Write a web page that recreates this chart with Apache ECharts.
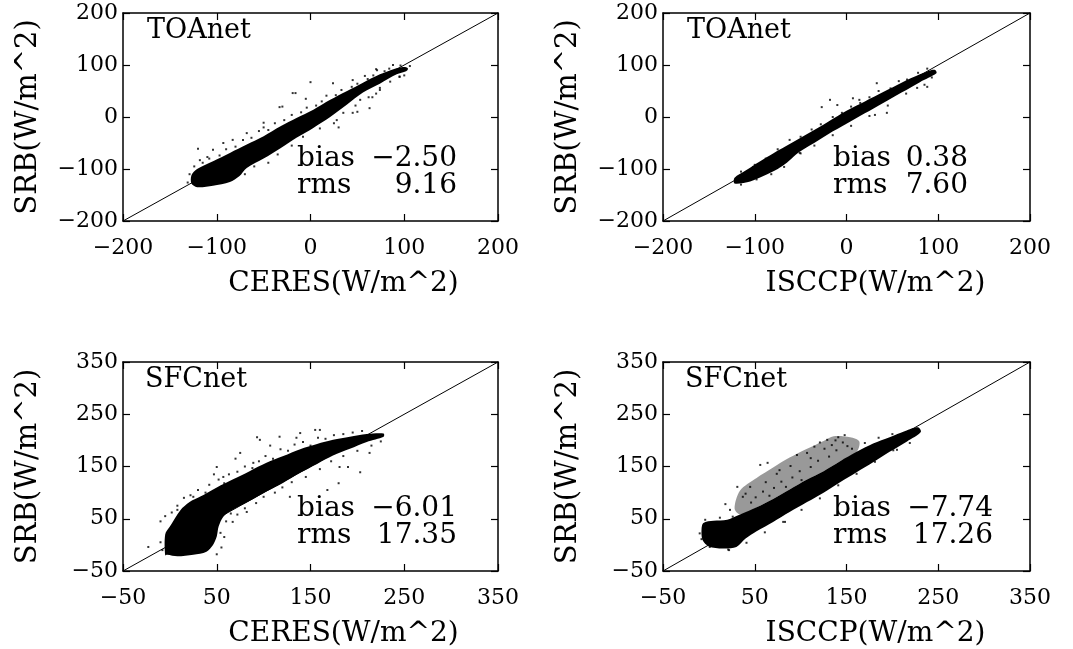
<!DOCTYPE html>
<html>
<head>
<meta charset="utf-8">
<script src="https://cdn.jsdelivr.net/npm/echarts@6/dist/echarts.min.js"></script>
<style>
html, body { margin: 0; padding: 0; background: #fff; }
#chart { width: 1073px; height: 649px; }
</style>
</head>
<body>
<div id="chart"></div>
<script>
const panelTitles = ['TOAnet', 'TOAnet', 'SFCnet', 'SFCnet']
const xNames = ['CERES(W/m^2)', 'ISCCP(W/m^2)', 'CERES(W/m^2)', 'ISCCP(W/m^2)']
const yName = 'SRB(W/m^2)'
const axisMin = [-200, -200, -50, -50]
const axisMax = [200, 200, 350, 350]
const tickStep = 100
const biasVals = ['-2.50', '0.38', '-6.01', '-7.74']
const rmsVals = ['9.16', '7.60', '17.35', '17.26']

// dense part of each cloud, outline, [x, y] in W/m^2
const toaCeresCore = [
  [-127, -112], [-121, -100], [-104, -85], [-86, -69], [-68, -53], [-50, -37], [-32, -18],
  [-15, -2], [3, 14], [21, 33], [39, 50], [56, 66], [74, 82], [90, 93], [101, 96], [104, 93],
  [102, 88], [92, 82], [74, 64], [56, 47], [39, 24], [21, 0], [3, -21], [-15, -40], [-32, -60],
  [-50, -80], [-68, -98], [-76, -114], [-86, -125], [-104, -132], [-121, -135], [-127, -128]
]
const toaIsccpCore = [
  [-122, -117], [-110, -103], [-95, -86], [-80, -70], [-60, -50], [-40, -30], [-20, -9],
  [0, 12], [20, 30], [40, 48], [60, 66], [80, 82], [92, 90], [97, 90],
  [98, 84], [80, 67], [60, 47], [40, 27], [20, 7], [0, -13], [-20, -33], [-40, -55],
  [-55, -72], [-65, -88], [-75, -100], [-90, -113], [-105, -124], [-122, -128]
]
const sfcCeresCore = [
  [-5, -20], [-5, 20], [0, 35], [11, 66], [21, 82], [32, 92], [50, 110], [68, 126], [85, 141],
  [103, 157], [121, 170], [139, 183], [157, 193], [174, 201], [192, 207], [210, 212], [228, 213],
  [228, 207], [210, 197], [192, 184], [174, 171], [157, 155], [139, 138], [121, 119], [103, 102],
  [85, 84], [68, 68], [57, 54], [52, 35], [50, 16], [46, 0], [39, -13], [25, -19], [8, -22], [-3, -19]
]
const sfcIsccpCore = [
  [-6, 42], [5, 46], [20, 48], [34, 58], [52, 72], [70, 88], [88, 106], [107, 125], [125, 141],
  [143, 160], [161, 178], [179, 194], [197, 206], [214, 218], [228, 225],
  [231, 216], [216, 198], [197, 178], [179, 158], [161, 139], [143, 120], [125, 100], [107, 82],
  [88, 63], [70, 44], [52, 26], [40, 12], [30, -4], [15, -7], [0, -3], [-7, 10], [-8, 30]
]
// lighter plume above the main band (ISCCP SFCnet)
const sfcIsccpPlume = [
  [28, 70], [34, 104], [52, 128], [70, 148], [88, 167], [107, 184], [125, 199], [136, 208],
  [154, 206], [164, 198], [161, 178], [143, 160], [125, 141], [107, 125], [88, 106], [70, 88],
  [52, 72], [34, 58]
]

// scattered points round the dense part
const toaCeresPts = [
  [0, 67], [-16, 46], [24, 65], [45, 71], [63, 17], [66, 38], [45, 8], [28, -6], [71, 90], [88, 100],
  [106, 98], [-104, -63], [-110, -77], [-68, -31], [-50, -11], [-33, 19], [-40, -58], [95, 77],
  [-118, -83], [-93, -50], [-83, -44], [53, 33], [74, 52], [-120, -61], [-19, 46], [74, 56],
  [-124, -95], [-115, -88], [-108, -80], [-97, -74], [-90, -62], [-80, -57], [-72, -44], [-63, -40],
  [-55, -27], [-45, -25], [-38, -12], [-28, -6], [-20, 4], [-10, 9], [-4, 18], [6, 22], [12, 30],
  [17, 41], [27, 42], [33, 52], [44, 58], [50, 64], [61, 73], [67, 80], [79, 88], [84, 93], [96, 99],
  [70, 92], [58, 79], [-30, 20], [-50, -20], [-5, 35], [-70, -110], [-60, -95], [-45, -88],
  [-35, -72], [-20, -55], [-8, -38], [10, -22], [25, -12], [35, 8], [48, 22], [62, 38], [70, 45],
  [85, 68], [95, 78], [100, 80], [30, -20], [50, 10], [-131, -126], [-129, -110]
]
const toaIsccpPts = [
  [-10, 23], [15, 27], [7, 36], [44, 8], [33, 65], [88, 58], [-18, 33], [-51, -69], [-102, -96],
  [-32, -25], [-27, 19], [31, 4], [77, 56], [-115, -105], [-100, -92], [-88, -80], [-75, -62],
  [-62, -44], [-50, -38], [-38, -24], [-28, -14], [-15, 0], [-5, 8], [5, 20], [14, 33], [25, 38],
  [35, 50], [48, 55], [57, 69], [66, 72], [78, 85], [88, 93], [-115, -130], [-98, -120], [-82, -110],
  [-68, -96], [-50, -70], [-35, -55], [-15, -35], [5, -17], [25, 2], [45, 22], [65, 45], [85, 62],
  [93, 76]
]
const sfcCeresPts = [
  [50, 149], [75, 176], [96, 201], [117, 207], [139, 214], [160, 220], [89, 157], [25, 92], [8, 67],
  [57, 130], [155, 220], [93, 206], [203, 139], [180, 118], [190, 149], [168, 105], [128, 92],
  [82, 63], [67, 44], [54, 23], [-23, -4], [213, 176], [181, 149], [-10, 45], [-5, 55], [2, 62],
  [8, 75], [15, 90], [22, 95], [30, 105], [38, 100], [42, 115], [52, 125], [58, 118], [63, 135],
  [72, 140], [80, 150], [88, 147], [95, 160], [102, 170], [110, 165], [118, 183], [126, 180],
  [133, 192], [142, 197], [150, 190], [158, 205], [166, 203], [175, 210], [185, 212], [195, 215],
  [205, 218], [60, 45], [65, 60], [72, 58], [80, 70], [92, 80], [100, 92], [112, 100], [120, 110],
  [130, 120], [145, 130], [160, 145], [172, 160], [185, 170], [200, 180], [215, 190], [225, 198],
  [58, 15], [55, -5], [50, -18], [-8, -10], [-10, 5], [107, 190], [135, 205], [70, 165], [47, 135]
]
const sfcIsccpPts = [
  [64, 157], [77, 143], [107, 176], [45, 111], [37, 92], [23, 67], [56, 153], [31, 111], [83, 44],
  [219, 195], [205, 182], [51, 91], [59, 102], [71, 109], [79, 121], [91, 129], [99, 141], [111, 149],
  [119, 161], [131, 169], [139, 181], [151, 189], [121, 196], [129, 201], [141, 206], [126, 184],
  [134, 191], [146, 196], [156, 184], [101, 124], [84, 111], [66, 94], [46, 81], [89, 151], [111, 166],
  [201, 181], [181, 159], [161, 136], [141, 114], [121, 89], [101, 67], [81, 44], [61, 24], [41, 4],
  [21, -9], [1, -4], [-8, 11], [-6, 36], [115, 188], [138, 200], [148, 210], [96, 172], [74, 136],
  [62, 120], [40, 98], [18, 78], [170, 195], [185, 205], [200, 212], [-10, 22], [-4, 48], [12, 52],
  [26, 54], [36, 28], [22, -10]
]

const cores = [toaCeresCore, toaIsccpCore, sfcCeresCore, sfcIsccpCore]
const points = [toaCeresPts, toaIsccpPts, sfcCeresPts, sfcIsccpPts]

const grids = [
  { left: 123, top: 13, width: 375, height: 208 },
  { left: 663, top: 13, width: 367, height: 208 },
  { left: 123, top: 362, width: 375, height: 209 },
  { left: 663, top: 362, width: 367, height: 209 }
]
const nameShift = [66, 58, 66, 58]
const titlePos = [[147, 17], [687, 17], [145, 366], [685, 366]]
const statPos = [[297, 145], [833, 145], [297, 495], [833, 495]]
const valueWidth = [90, 65, 90, 90]

const font = 'DejaVu Serif'
const minus = s => String(s).replace('-', '\u2212')
const line = { color: '#000', width: 1.5 }

const xAxes = []
const yAxes = []
const series = []
const graphic = []

grids.forEach((g, i) => {
  const min = axisMin[i]
  const max = axisMax[i]
  const base = {
    gridIndex: i, type: 'value', min, max, interval: tickStep,
    axisLine: { show: true, onZero: false, lineStyle: line },
    axisTick: { show: true, inside: true, length: 7, lineStyle: { color: '#000', width: 1.2 } },
    splitLine: { show: false }
  }
  const labels = { color: '#000', fontFamily: font, fontSize: 22, formatter: minus }
  xAxes.push(Object.assign({}, base, {
    position: 'bottom',
    axisLabel: Object.assign({ margin: 16 }, labels),
    name: xNames[i], nameLocation: 'middle', nameGap: 49,
    nameTextStyle: { color: '#000', fontFamily: font, fontSize: 28, padding: [0, 0, 0, nameShift[i]] }
  }))
  xAxes.push(Object.assign({}, base, { position: 'top', axisLabel: { show: false } }))
  yAxes.push(Object.assign({}, base, {
    position: 'left',
    axisLabel: Object.assign({ margin: 5 }, labels),
    name: yName, nameLocation: 'middle', nameGap: 80,
    nameTextStyle: { color: '#000', fontFamily: font, fontSize: 29 }
  }))
  yAxes.push(Object.assign({}, base, { position: 'right', axisLabel: { show: false } }))

  const poly = (pts, fill) => ({
    type: 'custom', xAxisIndex: i * 2, yAxisIndex: i * 2, silent: true, data: pts,
    renderItem: (params, api) => {
      if (params.dataIndex !== 0) return null
      return { type: 'polygon', shape: { points: pts.map(p => api.coord(p)), smooth: 0.3 }, style: { fill } }
    }
  })
  if (i === 3) series.push(poly(sfcIsccpPlume, 'rgba(0,0,0,0.4)'))
  series.push(poly(cores[i], '#000'))
  series.push({
    type: 'scatter', xAxisIndex: i * 2, yAxisIndex: i * 2, silent: true,
    symbol: 'rect', symbolSize: 2, itemStyle: { color: '#000' }, data: points[i]
  })
  series.push({
    type: 'line', xAxisIndex: i * 2, yAxisIndex: i * 2, silent: true, symbol: 'none',
    lineStyle: { color: '#000', width: 1 }, data: [[min, min], [max, max]]
  })

  graphic.push({
    type: 'text', x: titlePos[i][0], y: titlePos[i][1],
    style: { text: panelTitles[i], font: '27px "' + font + '"', fill: '#000' }
  })
  const rs = { fontFamily: font, fontSize: 28, lineHeight: 27 }
  graphic.push({
    type: 'text', x: statPos[i][0], y: statPos[i][1],
    style: {
      text: '{l|bias}{v|' + minus(biasVals[i]) + '}\n{l|rms}{v|' + minus(rmsVals[i]) + '}',
      fill: '#000', fontFamily: font, fontSize: 28, lineHeight: 27,
      rich: {
        l: Object.assign({ width: 70 }, rs),
        v: Object.assign({ width: valueWidth[i], align: 'right' }, rs)
      }
    }
  })
})

const chart = echarts.init(document.getElementById('chart'))
chart.setOption({
  animation: false,
  backgroundColor: '#fff',
  grid: grids,
  xAxis: xAxes,
  yAxis: yAxes,
  series,
  graphic
})
</script>
</body>
</html>
